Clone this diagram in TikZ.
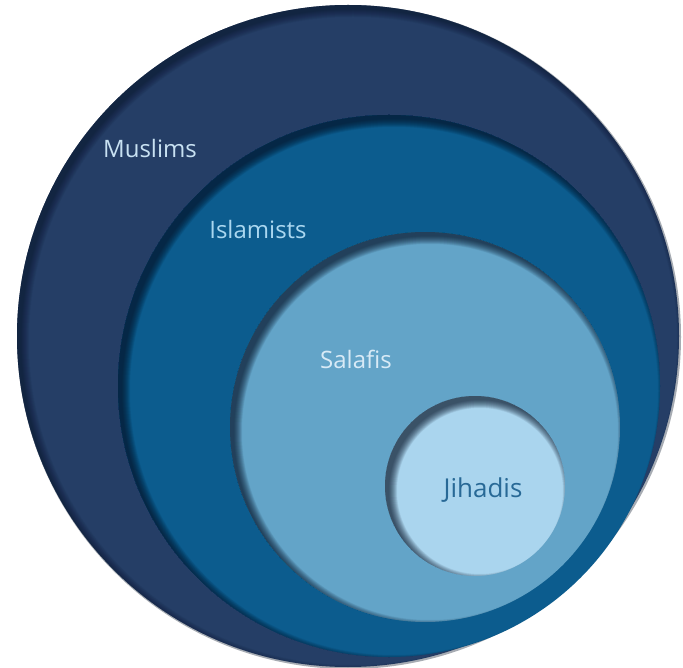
\documentclass[tikz,border=0pt]{standalone}
\usepackage{fontspec}
\setmainfont{Open Sans}
\usetikzlibrary{calc}
\definecolor{muslimc}{RGB}{37,62,102}
\definecolor{islamc}{RGB}{12,92,142}
\definecolor{salafc}{RGB}{99,164,200}
\definecolor{jihadc}{RGB}{170,213,238}
\definecolor{lbltxt}{RGB}{200,225,242}
\definecolor{islamtxt}{RGB}{170,215,240}
\definecolor{jtxt}{RGB}{40,105,150}
\definecolor{shadowc}{RGB}{5,18,38}
\newcommand\myinshadow[4]{%
  \begin{scope}
    \clip (#1,#2) circle[radius=#3pt];
    \foreach \b in {-1,-0.5,...,7}{
      \pgfmathsetmacro\rr{#3-\b+20}
      \draw[shadowc,opacity=#4,line width=40pt] (#1+5,#2+5) circle[radius=\rr pt];
    }
  \end{scope}}
\tikzset{
  lbl/.style={inner sep=0pt,anchor=base,font=\fontsize{24}{28}\selectfont},
}
\begin{document}
\begin{tikzpicture}[x=1pt,y=-1pt]
  \useasboundingbox[fill=white] (0,0) rectangle (683,668);
  % outer soft edge
  \fill[shadowc,opacity=0.35] (349,337) circle[radius=332pt];
  \fill[muslimc] (348,336) circle[radius=331pt];
  \myinshadow{348}{336}{331}{0.035}
  \fill[islamc] (389,386) circle[radius=271pt];
  \myinshadow{389}{386}{271}{0.06}
  \fill[salafc] (425,427) circle[radius=195pt];
  \myinshadow{425}{427}{195}{0.06}
  \fill[jihadc] (475,486) circle[radius=90pt];
  \myinshadow{475}{486}{90}{0.06}
  \node[lbl,text=lbltxt] (muslims) at (150,158) {Muslims};
  \node[lbl,text=islamtxt] (islamists) at (258,239) {Islamists};
  \node[lbl,text=lbltxt!70!white] (salafis) at (356,369) {Salafis};
  \node[lbl,text=jtxt,font=\fontsize{26}{30}\selectfont] (jihadis) at (483,497) {Jihadis};
\end{tikzpicture}
\end{document}
